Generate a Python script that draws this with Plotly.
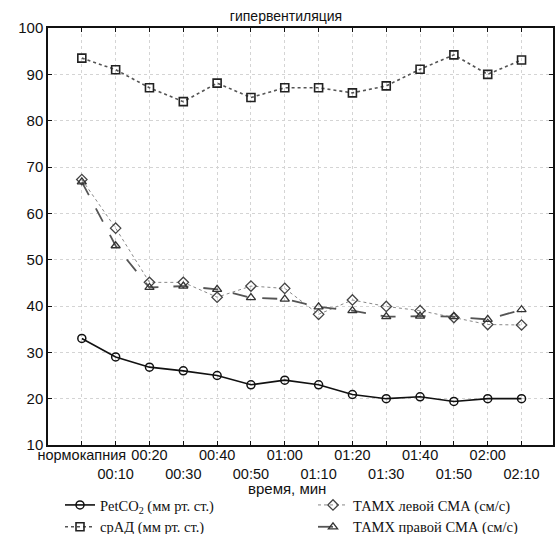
import plotly.graph_objects as go

categories = ["нормокапния", "00:10", "00:20", "00:30", "00:40", "00:50", "01:00",
              "01:10", "01:20", "01:30", "01:40", "01:50", "02:00", "02:10"]
petco2 = [33.0, 29.0, 26.8, 26.0, 25.0, 23.0, 24.0, 23.0, 20.9, 20.0, 20.4, 19.4, 20.0, 20.0]
srad = [93.5, 91.0, 87.1, 84.1, 88.1, 85.0, 87.1, 87.1, 86.0, 87.5, 91.1, 94.2, 90.0, 93.1]
tamx_left = [67.3, 56.8, 45.1, 45.1, 41.9, 44.3, 43.8, 38.2, 41.3, 39.9, 39.0, 37.5, 36.0, 35.9]
tamx_right = [66.8, 53.0, 44.0, 44.3, 43.6, 41.8, 41.5, 39.8, 39.0, 37.7, 37.8, 37.7, 37.1, 39.2]

x = list(range(len(categories)))
ticktext = [c if i % 2 == 0 else "<br>" + c for i, c in enumerate(categories)]

W, H = 556, 534

fig = go.Figure()
fig.add_trace(go.Scatter(
    x=x, y=petco2, mode="lines+markers", name="PetCO<sub>2</sub> (мм рт. ст.)", legend="legend",
    line=dict(color="#111111", width=1.6, dash="solid"),
    marker=dict(symbol="circle-open", size=8, color="#111111", line=dict(width=1.5))))
fig.add_trace(go.Scatter(
    x=x, y=srad, mode="lines+markers", name="срАД (мм рт. ст.)", legend="legend",
    line=dict(color="#555555", width=1.6, dash="dot"),
    marker=dict(symbol="square-open", size=8, color="#222222", line=dict(width=1.6))))
fig.add_trace(go.Scatter(
    x=x, y=tamx_left, mode="lines+markers", name="ТАМХ левой СМА (см/с)", legend="legend2",
    line=dict(color="#888888", width=1, dash="dot"),
    marker=dict(symbol="diamond-open", size=8, color="#444444", line=dict(width=1.3))))
fig.add_trace(go.Scatter(
    x=x, y=tamx_right, mode="lines+markers", name="ТАМХ правой СМА (см/с)", legend="legend2",
    line=dict(color="#555555", width=1.8, dash="longdash"),
    marker=dict(symbol="triangle-up-open", size=8, color="#333333", line=dict(width=1.3))))

legend_font = dict(family="Liberation Serif, Times New Roman, serif", size=14.5, color="#111111")

fig.update_layout(
    width=W, height=H,
    margin=dict(l=48, r=3, t=28, b=89, autoexpand=False),
    paper_bgcolor="white", plot_bgcolor="white",
    font=dict(family="Liberation Sans, Arial, sans-serif", color="#111111", size=15),
    title=dict(text="гипервентиляция", x=286 / W, xref="container", xanchor="center",
               y=1 - 16 / H, yref="container", yanchor="middle",
               font=dict(size=14, family="Liberation Sans, Arial, sans-serif")),
    showlegend=True,
    legend=dict(orientation="v", xref="container", yref="container",
                x=60 / W, xanchor="left", y=1 - 489 / H, yanchor="top",
                font=legend_font, bgcolor="rgba(0,0,0,0)", itemwidth=30, tracegroupgap=0),
    legend2=dict(orientation="v", xref="container", yref="container",
                 x=313 / W, xanchor="left", y=1 - 489 / H, yanchor="top",
                 font=legend_font, bgcolor="rgba(0,0,0,0)", itemwidth=30, tracegroupgap=0),
)
fig.update_xaxes(
    range=[-1.0, 13.93], tickmode="array", tickvals=x, ticktext=ticktext,
    showline=True, linecolor="#111111", linewidth=1.5, mirror="ticks",
    ticks="inside", ticklen=4, tickcolor="#111111",
    showgrid=True, gridcolor="#d4d4d4", griddash="dot", gridwidth=1,
    zeroline=False, tickfont=dict(size=14.5), tickangle=0, ticklabelstandoff=-4)
fig.update_yaxes(
    range=[10, 100], tickvals=[10, 20, 30, 40, 50, 60, 70, 80, 90, 100],
    showline=True, linecolor="#111111", linewidth=1.5, mirror="ticks",
    ticks="inside", ticklen=4, tickcolor="#111111",
    showgrid=True, gridcolor="#d4d4d4", griddash="dot", gridwidth=1,
    zeroline=False, tickfont=dict(size=15))
fig.add_annotation(text="время, мин", xref="paper", yref="paper",
                   x=(287 - 48) / 505, y=-(488 - 445) / 417, xanchor="center", yanchor="middle",
                   showarrow=False, font=dict(size=15))

fig.write_html("out.html")
